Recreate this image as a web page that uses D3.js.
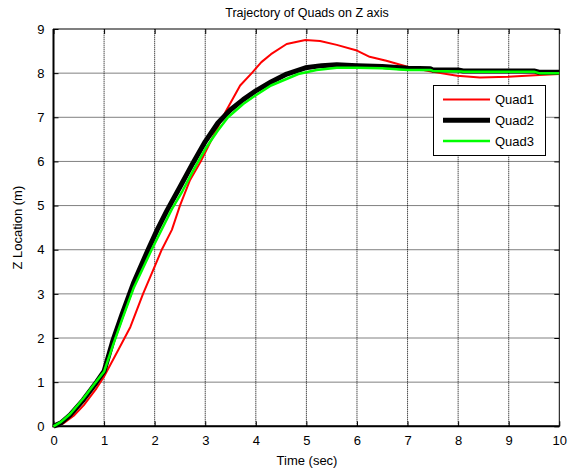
<!DOCTYPE html>
<html><head><meta charset="utf-8">
<script src="https://cdn.jsdelivr.net/npm/d3@7"></script>
<style>body{margin:0;background:#fff}svg{display:block}text{font-family:"Liberation Sans",Arial,sans-serif}</style>
</head><body>
<script>
const xTicks = [0,1,2,3,4,5,6,7,8,9,10];
const yTicks = [0,1,2,3,4,5,6,7,8,9];
const seriesNames = ["Quad1","Quad2","Quad3"];
const quad1T = [0,0.2,0.4,0.6,0.85,1.0,1.28,1.52,1.77,1.97,2.14,2.34,2.5,2.7,2.91,3.15,3.4,3.69,3.92,4.11,4.3,4.61,4.98,5.27,5.6,5.98,6.25,6.58,6.98,7.44,7.98,8.43,8.99,9.61,10];
const quad1Z = [0,0.07,0.24,0.48,0.86,1.13,1.73,2.25,3.0,3.54,4.0,4.45,5.0,5.58,6.0,6.55,7.12,7.72,8.0,8.25,8.43,8.66,8.75,8.73,8.64,8.52,8.37,8.28,8.15,8.04,7.94,7.9,7.92,7.96,7.98];
const quad2T = [0,0.15,0.33,0.59,0.85,1.0,1.18,1.35,1.58,1.87,2.05,2.24,2.5,2.75,3.0,3.25,3.5,3.75,4.0,4.3,4.61,4.98,5.3,5.6,6.0,6.5,7.0,7.45,7.5,8.0,8.1,9.5,9.6,10];
const quad2Z = [0,0.08,0.26,0.6,1.0,1.25,1.96,2.52,3.24,4.0,4.45,4.88,5.42,5.95,6.45,6.87,7.17,7.4,7.6,7.8,7.98,8.12,8.17,8.19,8.17,8.15,8.11,8.1,8.07,8.07,8.05,8.05,8.02,8.02];
const quad3T = [0,0.15,0.33,0.59,0.85,1.0,1.18,1.35,1.58,1.94,2.34,2.55,2.78,3.0,3.25,3.45,3.75,4.0,4.3,4.84,5.2,5.6,6.0,6.5,7.0,7.45,7.5,8.05,8.1,9.5,9.6,10];
const quad3Z = [0,0.1,0.28,0.63,1.02,1.24,1.85,2.4,3.12,4.0,4.92,5.33,5.83,6.28,6.7,7.0,7.3,7.5,7.72,7.98,8.07,8.12,8.12,8.11,8.07,8.07,8.05,8.04,8.03,8.03,8.0,8.0];

const W = 579, H = 471;
const m = {left:53.5, right:W-559.3, top:29, bottom:H-426.3};
const svg = d3.select("body").append("svg").attr("width",W).attr("height",H);
const x = d3.scaleLinear().domain([0,10]).range([m.left, W-m.right]);
const y = d3.scaleLinear().domain([0,9]).range([H-m.bottom, m.top]);

// grid
const g = svg.append("g");
g.selectAll(".vg").data(xTicks.slice(1,-1)).enter().append("line")
  .attr("x1",d=>x(d)).attr("x2",d=>x(d)).attr("y1",y(0)).attr("y2",y(9))
  .attr("stroke","#000").attr("stroke-width",1).attr("stroke-dasharray","1,1");
g.selectAll(".hg").data(yTicks.slice(1,-1)).enter().append("line")
  .attr("y1",d=>y(d)).attr("y2",d=>y(d)).attr("x1",x(0)).attr("x2",x(10))
  .attr("stroke","#000").attr("stroke-width",1).attr("stroke-dasharray","1,1");

// axes (ticks inside)
const ax = svg.append("g").attr("transform",`translate(0,${y(0)})`)
  .call(d3.axisBottom(x).tickValues(xTicks).tickSizeInner(-5).tickSizeOuter(0).tickPadding(9));
const axT = svg.append("g").attr("transform",`translate(0,${y(9)})`)
  .call(d3.axisTop(x).tickValues(xTicks).tickSizeInner(-5).tickSizeOuter(0).tickFormat(""));
const ay = svg.append("g").attr("transform",`translate(${x(0)},0)`)
  .call(d3.axisLeft(y).tickValues(yTicks).tickSizeInner(-5).tickSizeOuter(0).tickPadding(9));
const ayR = svg.append("g").attr("transform",`translate(${x(10)},0)`)
  .call(d3.axisRight(y).tickValues(yTicks).tickSizeInner(-5).tickSizeOuter(0).tickFormat(""));
[ax,axT,ay,ayR].forEach(a=>{
  a.select(".domain").remove();
  a.selectAll("line").attr("stroke","#000");
  a.selectAll("text").attr("font-size",13).attr("fill","#000").attr("font-family","Liberation Sans, Arial, sans-serif");
});
// box
svg.append("rect").attr("x",x(0)).attr("y",y(9)).attr("width",x(10)-x(0)).attr("height",y(0)-y(9))
  .attr("fill","none").attr("stroke","#000").attr("stroke-width",1);
svg.append("line").attr("x1",x(0)).attr("x2",x(0)).attr("y1",y(0)+1).attr("y2",y(9)).attr("stroke","#000").attr("stroke-width",2);
svg.append("line").attr("x1",x(0)-1).attr("x2",x(10)).attr("y1",y(0)).attr("y2",y(0)).attr("stroke","#000").attr("stroke-width",2);

// series
const series = [
  {name:seriesNames[0], t:quad1T, z:quad1Z, color:"#ff0000", w:2},
  {name:seriesNames[1], t:quad2T, z:quad2Z, color:"#000000", w:5},
  {name:seriesNames[2], t:quad3T, z:quad3Z, color:"#00ff00", w:2.5}
];
const line = d3.line().x(d=>x(d[0])).y(d=>y(d[1]));
series.forEach(s=>{
  svg.append("path").datum(s.t.map((t,i)=>[t,s.z[i]]))
    .attr("d",line).attr("fill","none").attr("stroke",s.color).attr("stroke-width",s.w)
    .attr("stroke-linejoin","round");
});

// legend
const lg = svg.append("g");
lg.append("rect").attr("x",433.5).attr("y",85.5).attr("width",112).attr("height",70)
  .attr("fill","#fff").attr("stroke","#000").attr("stroke-width",1);
series.forEach((s,i)=>{
  const yy = 99.5 + i*20.8;
  lg.append("line").attr("x1",443).attr("x2",490).attr("y1",yy).attr("y2",yy)
    .attr("stroke",s.color).attr("stroke-width",s.w);
  lg.append("text").attr("x",495).attr("y",yy+4.5).attr("font-size",13).text(s.name);
});

// titles
svg.append("text").attr("x",307).attr("y",17).attr("text-anchor","middle").attr("font-size",12.5).text("Trajectory of Quads on Z axis");
svg.append("text").attr("x",307).attr("y",465).attr("text-anchor","middle").attr("font-size",13).text("Time (sec)");
svg.append("text").attr("transform",`translate(22,${(y(0)+y(9))/2}) rotate(-90)`).attr("text-anchor","middle").attr("font-size",13).text("Z Location (m)");
</script>
</body></html>
